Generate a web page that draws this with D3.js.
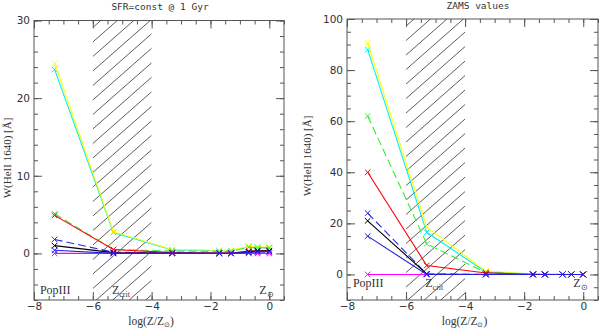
<!DOCTYPE html>
<html><head><meta charset="utf-8">
<script src="https://cdn.jsdelivr.net/npm/d3@7"></script>
<style>body{margin:0;background:#fff}</style></head>
<body>
<svg id="c" width="600" height="329"></svg>
<script>
// log(Z/Zsun) of the model grid
const metallicity = [-7.3, -5.3, -3.3, -1.7, -1.3, -0.7, -0.4, 0];

// Left panel: SFR=const @ 1 Gyr
const sfrCyan    = [23.7, 2.7, 0.45, 0.35, 0.35, 0.85, 0.8, 0.75];
const sfrYellow  = [24.5, 2.8, 0.5, 0.4, 0.4, 0.9, 0.85, 0.8];
const sfrGreen   = [5.1, 0.5, 0.3, 0.25, 0.25, 0.8, 0.7, 0.7];
const sfrRed     = [4.9, 0.5, 0.1, 0.05, 0.05, 0.3, 0.3, 0.3];
const sfrBlueDash= [1.8, 0.15, 0.05, 0.02, 0.02, 0.15, 0.2, 0.2];
const sfrBlack   = [1.0, 0.1, 0.05, 0.02, 0.02, 0.2, 0.35, 0.35];
const sfrMagenta = [0, 0, 0, 0, 0, 0, 0, 0];
const sfrBlue    = [0.4, 0.0, 0.0, 0.0, 0.0, 0.1, 0.2, 0.25];

// Right panel: ZAMS values
const zamsCyan    = [88, 16.5, 1.0, 0.15, 0.1, 0.05, 0, 0];
const zamsYellow  = [90.5, 18.5, 1.3, 0.2, 0.1, 0.05, 0, 0];
const zamsGreen   = [62, 12, 0.8, 0.1, 0.05, 0, 0, 0];
const zamsRed     = [40, 3.5, 0.6, 0.05, 0, 0, 0, 0];
const zamsBlueDash= [24, 0.2, 0, 0, 0, 0, 0, 0];
const zamsBlack   = [21, 0.2, 0, 0, 0, 0, 0, 0];
const zamsMagenta = [0, 0, 0, 0, 0, 0, 0, 0];
const zamsBlue    = [15, 0, 0, 0, 0, 0, 0, 0];

const seriesColors = ["#00f0f0", "#ffff00", "#33ee33", "#ff0000", "#2a2ae0", "#000000", "#ff00ff", "#2020e0"];
const seriesDash   = [null, null, "8,4", null, "8,4", null, null, null];

const xTicks = [-8, -6, -4, -2, 0];
const zCritRange = [-6, -4];

const panels = [
  {title: "SFR=const @ 1 Gyr", data: [sfrCyan, sfrYellow, sfrGreen, sfrRed, sfrBlueDash, sfrBlack, sfrMagenta, sfrBlue],
   yDomain: [-6, 30], yTicks: [0, 10, 20, 30], yMinor: 2,
   box: {l: 34, r: 284, t: 20.5, b: 300}, titleX: 160, titleY: 10, ylabX: 10.5, ylabY: 158},
  {title: "ZAMS values", data: [zamsCyan, zamsYellow, zamsGreen, zamsRed, zamsBlueDash, zamsBlack, zamsMagenta, zamsBlue],
   yDomain: [-10, 100], yTicks: [0, 20, 40, 60, 80, 100], yMinor: 5,
   box: {l: 347, r: 598, t: 19, b: 300}, titleX: 478, titleY: 9, ylabX: 310.5, ylabY: 156}
];

const svg = d3.select("#c");
const frameColor = "#555";

panels.forEach((p, pi) => {
  const B = p.box;
  const x = d3.scaleLinear().domain([-8, 0.5]).range([B.l, B.r]);
  const y = d3.scaleLinear().domain(p.yDomain).range([B.b, B.t]);
  const g = svg.append("g");

  const cid = "clip" + pi;
  svg.append("clipPath").attr("id", cid).append("rect")
    .attr("x", x(zCritRange[0])).attr("y", B.t)
    .attr("width", x(zCritRange[1]) - x(zCritRange[0])).attr("height", B.b - B.t);

  // hatching
  const hg = g.append("g").attr("clip-path", `url(#${cid})`);
  const slope = 0.88, step = 14.5;
  const x0 = x(zCritRange[0]), x1 = x(zCritRange[1]);
  for (let c = B.t - 80; c < B.b + 80; c += step) {
    hg.append("line")
      .attr("x1", x0).attr("y1", c)
      .attr("x2", x1).attr("y2", c - slope * (x1 - x0))
      .attr("stroke", "#333").attr("stroke-width", 0.8);
  }

  // lines
  const line = d3.line().x((d, i) => x(metallicity[i])).y(d => y(d));
  p.data.forEach((s, si) => {
    const path = g.append("path").datum(s).attr("d", line)
      .attr("fill", "none").attr("stroke", seriesColors[si]).attr("stroke-width", 1.1);
    if (seriesDash[si]) path.attr("stroke-dasharray", seriesDash[si]);
    g.selectAll(null).data(s).enter().append("path")
      .attr("d", (d, i) => {
        const cx = x(metallicity[i]), cy = y(d), r = 2.8;
        return `M${cx - r},${cy - r}L${cx + r},${cy + r}M${cx - r},${cy + r}L${cx + r},${cy - r}`;
      })
      .attr("stroke", seriesColors[si]).attr("stroke-width", 1).attr("fill", "none");
  });

  // frame
  g.append("rect").attr("x", B.l).attr("y", B.t).attr("width", B.r - B.l).attr("height", B.b - B.t)
    .attr("fill", "none").attr("stroke", frameColor).attr("stroke-width", 1);

  const xMinor = d3.range(-8, 0.51, 0.5);
  const yMinor = d3.range(p.yDomain[0], p.yDomain[1] + 0.001, p.yMinor);
  const styleAxis = sel => {
    sel.select(".domain").remove();
    sel.selectAll("line").attr("stroke", frameColor);
    sel.selectAll("text").attr("fill", "#333").attr("font-family", "DejaVu Sans, sans-serif").attr("font-size", 10.5);
  };
  g.append("g").attr("transform", `translate(0,${B.b})`)
    .call(d3.axisBottom(x).tickValues(xMinor).tickSize(-4).tickFormat("")).call(styleAxis);
  g.append("g").attr("transform", `translate(0,${B.b})`)
    .call(d3.axisBottom(x).tickValues(xTicks).tickSize(-8).tickPadding(3).tickFormat(d3.format("d"))).call(styleAxis);
  g.append("g").attr("transform", `translate(0,${B.t})`)
    .call(d3.axisTop(x).tickValues(xMinor).tickSize(-4).tickFormat("")).call(styleAxis);
  g.append("g").attr("transform", `translate(0,${B.t})`)
    .call(d3.axisTop(x).tickValues(xTicks).tickSize(-8).tickFormat("")).call(styleAxis);
  g.append("g").attr("transform", `translate(${B.l},0)`)
    .call(d3.axisLeft(y).tickValues(yMinor).tickSize(-4).tickFormat("")).call(styleAxis);
  g.append("g").attr("transform", `translate(${B.l},0)`)
    .call(d3.axisLeft(y).tickValues(p.yTicks).tickSize(-8).tickPadding(4).tickFormat(d3.format("d"))).call(styleAxis);
  g.append("g").attr("transform", `translate(${B.r},0)`)
    .call(d3.axisRight(y).tickValues(yMinor).tickSize(-4).tickFormat("")).call(styleAxis);
  g.append("g").attr("transform", `translate(${B.r},0)`)
    .call(d3.axisRight(y).tickValues(p.yTicks).tickSize(-8).tickFormat("")).call(styleAxis);

  // title
  g.append("text").attr("x", p.titleX).attr("y", p.titleY).attr("text-anchor", "middle")
    .attr("font-family", "DejaVu Sans Mono, monospace").attr("font-size", 9.5).attr("fill", "#333")
    .text(p.title);

  // y label
  g.append("text").attr("transform", `translate(${p.ylabX},${p.ylabY}) rotate(-90)`)
    .attr("text-anchor", "middle").attr("font-family", "Liberation Serif, serif").attr("font-size", 11).attr("fill", "#333")
    .text("W(HeII 1640) [Å]");

  // x label
  const xl = g.append("text").attr("x", (B.l + B.r) / 2 - 8).attr("y", 324.5).attr("text-anchor", "middle")
    .attr("font-family", "Liberation Serif, serif").attr("font-size", 11.5).attr("fill", "#333");
  xl.append("tspan").text("log(Z/Z");
  xl.append("tspan").attr("font-size", 7).attr("dy", 2.5).text("⊙");
  xl.append("tspan").attr("dy", -2.5).text(")");

  // annotations
  const annY = B.b - (pi === 0 ? 6 : 13);
  const ann = (tx, anchor) => g.append("text").attr("x", tx).attr("y", annY).attr("text-anchor", anchor)
    .attr("font-family", "Liberation Serif, serif").attr("font-size", 12).attr("fill", "#333");
  ann(x(-7.8), "start").text("PopIII");
  const zc = ann(x(-5.35), "start");
  zc.append("tspan").text("Z");
  zc.append("tspan").attr("font-size", 8).attr("dy", 3).text("crit");
  const zs = ann(x(0.15), "end");
  zs.append("tspan").text("Z");
  zs.append("tspan").attr("font-size", 8).attr("dy", 3).text("⊙");
});
</script>
</body></html>
